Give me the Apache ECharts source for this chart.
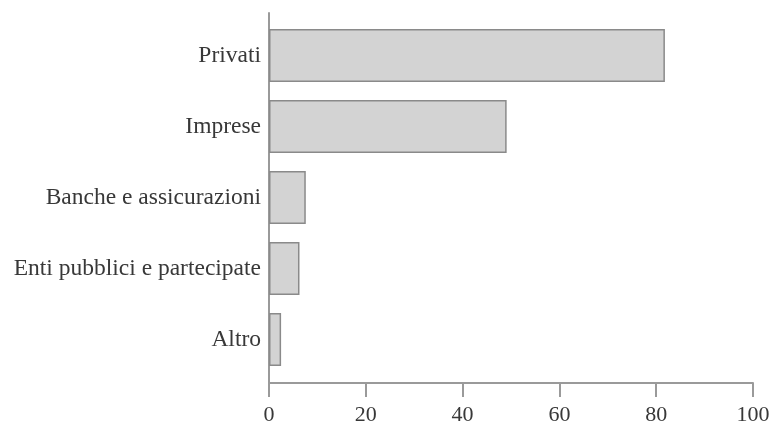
<!DOCTYPE html>
<html><head><meta charset="utf-8">
<script src="https://cdn.jsdelivr.net/npm/echarts@6/dist/echarts.min.js"></script>
<style>html,body{margin:0;padding:0;background:#fff}#c{width:779px;height:422px}</style>
</head><body><div id="c"></div>
<script>
const categories = ['Privati', 'Imprese', 'Banche e assicurazioni', 'Enti pubblici e partecipate', 'Altro'];
const values = [81.8, 49.1, 7.6, 6.3, 2.5];
const xTicks = [0, 20, 40, 60, 80, 100];

const FONT = '"Liberation Serif", "DejaVu Serif", serif';
const chart = echarts.init(document.getElementById('c'), null, {renderer: 'canvas'});
chart.setOption({
  animation: false,
  backgroundColor: '#fff',
  grid: [
    {left: 269, right: 26, top: 13, bottom: 39, outerBoundsMode: 'none', containLabel: false},
    {left: 269, right: 26, top: 20, bottom: 47, outerBoundsMode: 'none', containLabel: false}
  ],
  xAxis: [
    {gridIndex: 0, type: 'value', min: xTicks[0], max: xTicks[xTicks.length-1], interval: 20,
     axisLine: {show: true, lineStyle: {color: '#9a9a9a', width: 2}},
     axisTick: {show: true, length: 14, lineStyle: {color: '#9a9a9a', width: 2}},
     axisLabel: {color: '#383838', fontFamily: FONT, fontSize: 22, margin: 21},
     splitLine: {show: false}},
    {gridIndex: 1, type: 'value', min: xTicks[0], max: xTicks[xTicks.length-1], show: false, splitLine: {show: false}}
  ],
  yAxis: [
    {gridIndex: 0, type: 'value', min: 0, max: 1,
     axisLine: {show: true, lineStyle: {color: '#9a9a9a', width: 2}},
     axisTick: {show: false}, axisLabel: {show: false}, splitLine: {show: false}},
    {gridIndex: 1, type: 'category', data: categories, inverse: true,
     axisLine: {show: false}, axisTick: {show: false},
     axisLabel: {color: '#383838', fontFamily: FONT, fontSize: 23.5, margin: 8}}
  ],
  series: [{
    type: 'bar', xAxisIndex: 1, yAxisIndex: 1, data: values,
    barWidth: 53,
    itemStyle: {color: '#d3d3d3', borderColor: '#8a8a8a', borderWidth: 1.5}
  }]
});
</script></body></html>
